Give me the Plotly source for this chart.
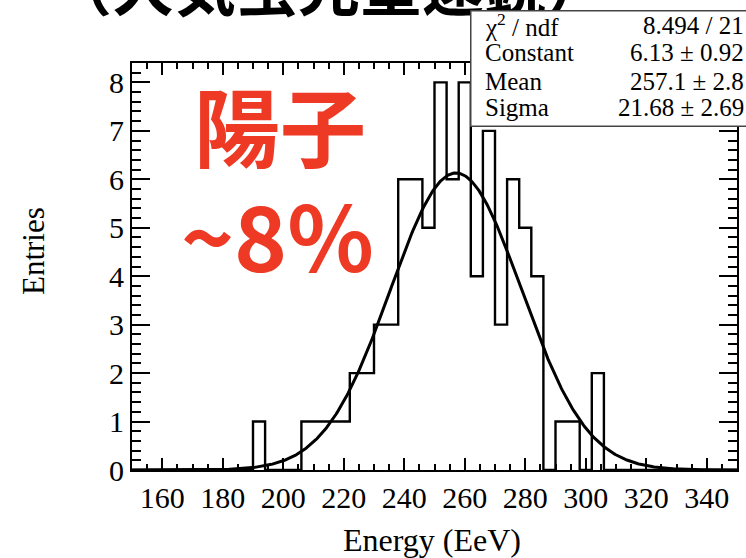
import numpy as np
import plotly.graph_objects as go

# ---- data ----
bin_edges = list(range(150, 354, 4))  # 51 edges, 50 bins of width 4
bin_counts = [0, 0, 0, 0, 0, 0, 0, 0, 0, 0,   # 150..186
              1, 0, 0, 0,                      # 190..202
              1, 1, 1, 1,                      # 206..218
              2, 2, 3, 3, 6, 6, 5,             # 222..246
              8, 6, 8, 4, 7, 3, 6, 5, 4,       # 250..282
              0, 1, 1, 0, 2,                   # 286..302
              0, 0, 0, 0, 0, 0, 0, 0, 0, 0, 0] # 306..346
fit_constant = 6.13
fit_mean = 257.1
fit_sigma = 21.68
stat_labels = ["χ<sup>2</sup> / ndf", "Constant", "Mean", "Sigma"]
stat_values = ["8.494 / 21", "6.13 ± 0.92", "257.1 ± 2.8", "21.68 ± 2.69"]
x_ticks = list(range(160, 360, 20))
y_ticks = list(range(0, 9))

W, H = 746, 558
L, R, T, B = 132, 9, 63, 88
PW, PH = W - L - R, H - T - B

def px(xp):
    return (xp - L) / PW

def py(yp):
    return (H - B - yp) / PH

serif = "Liberation Serif"

fig = go.Figure()

# histogram outline
xs = bin_edges[:]
ys = bin_counts + [bin_counts[-1]]
fig.add_trace(go.Scatter(x=xs, y=ys, mode="lines", line=dict(color="black", width=2.4, shape="hv"),
                         hoverinfo="skip", showlegend=False))

# fit curve
xf = np.linspace(bin_edges[0], bin_edges[-1], 600)
yf = fit_constant * np.exp(-0.5 * ((xf - fit_mean) / fit_sigma) ** 2)
fig.add_trace(go.Scatter(x=xf, y=yf, mode="lines", line=dict(color="black", width=3),
                         hoverinfo="skip", showlegend=False))

axis_common = dict(showgrid=False, zeroline=False, showline=True, linecolor="black", linewidth=2,
                   mirror="ticks", ticks="inside", tickcolor="black", tickwidth=1.5,
                   tickfont=dict(family=serif, size=30, color="black"))

fig.update_xaxes(range=[150, 350], tickvals=x_ticks, ticklen=12,
                 minor=dict(dtick=5, ticks="inside", ticklen=6, tickcolor="black", tickwidth=1.5),
                 **axis_common)
fig.update_yaxes(range=[0, 8.4], tickvals=y_ticks, ticklen=18,
                 minor=dict(dtick=0.2, ticks="inside", ticklen=9, tickcolor="black", tickwidth=1.5),
                 **axis_common)

annotations = []
# clipped slide title at top (drawn first so the stats box covers it)
annotations.append(dict(x=px(48), y=py(-16), xref="paper", yref="paper", text="<b>（大気蛍光望遠鏡）</b>",
                        showarrow=False, font=dict(family="Noto Sans CJK JP", size=62, color="black"),
                        xanchor="left", yanchor="middle"))
# axis titles
annotations.append(dict(x=px(432), y=py(540), xref="paper", yref="paper", text="Energy (EeV)",
                        showarrow=False, font=dict(family=serif, size=32, color="black"),
                        xanchor="center", yanchor="middle"))
annotations.append(dict(x=px(33), y=py(251), xref="paper", yref="paper", text="Entries", textangle=-90,
                        showarrow=False, font=dict(family=serif, size=31, color="black"),
                        xanchor="center", yanchor="middle"))
# red labels
red = "#EE3A25"
annotations.append(dict(x=px(280), y=py(123), xref="paper", yref="paper", text="<b>陽子</b>",
                        showarrow=False, font=dict(family="Noto Sans CJK JP", size=86, color=red),
                        xanchor="center", yanchor="middle"))
annotations.append(dict(x=px(277), y=py(233), xref="paper", yref="paper", text="<b>~8%</b>",
                        showarrow=False, font=dict(family="Noto Sans CJK JP", size=90, color=red),
                        xanchor="center", yanchor="middle"))

# stats box (drawn above the title)
annotations.append(dict(x=px(470), y=py(9.5), xref="paper", yref="paper", text=" ", showarrow=False,
                        width=300, height=114, bgcolor="white", bordercolor="#444444", borderwidth=1.5,
                        borderpad=0, xanchor="left", yanchor="top"))
row_y = [25, 53, 81, 108]
for lab, val, yy in zip(stat_labels, stat_values, row_y):
    annotations.append(dict(x=px(483), y=py(yy), xref="paper", yref="paper", text=lab, showarrow=False,
                            font=dict(family=serif, size=25, color="black"), xanchor="left", yanchor="middle"))
    annotations.append(dict(x=px(746), y=py(yy), xref="paper", yref="paper", text=val, showarrow=False,
                            font=dict(family=serif, size=25, color="black"), xanchor="right", yanchor="middle"))

fig.update_layout(
    width=W, height=H, margin=dict(l=L, r=R, t=T, b=B, autoexpand=False),
    paper_bgcolor="white", plot_bgcolor="white",
    annotations=annotations,
)

fig.write_html("out.html")
